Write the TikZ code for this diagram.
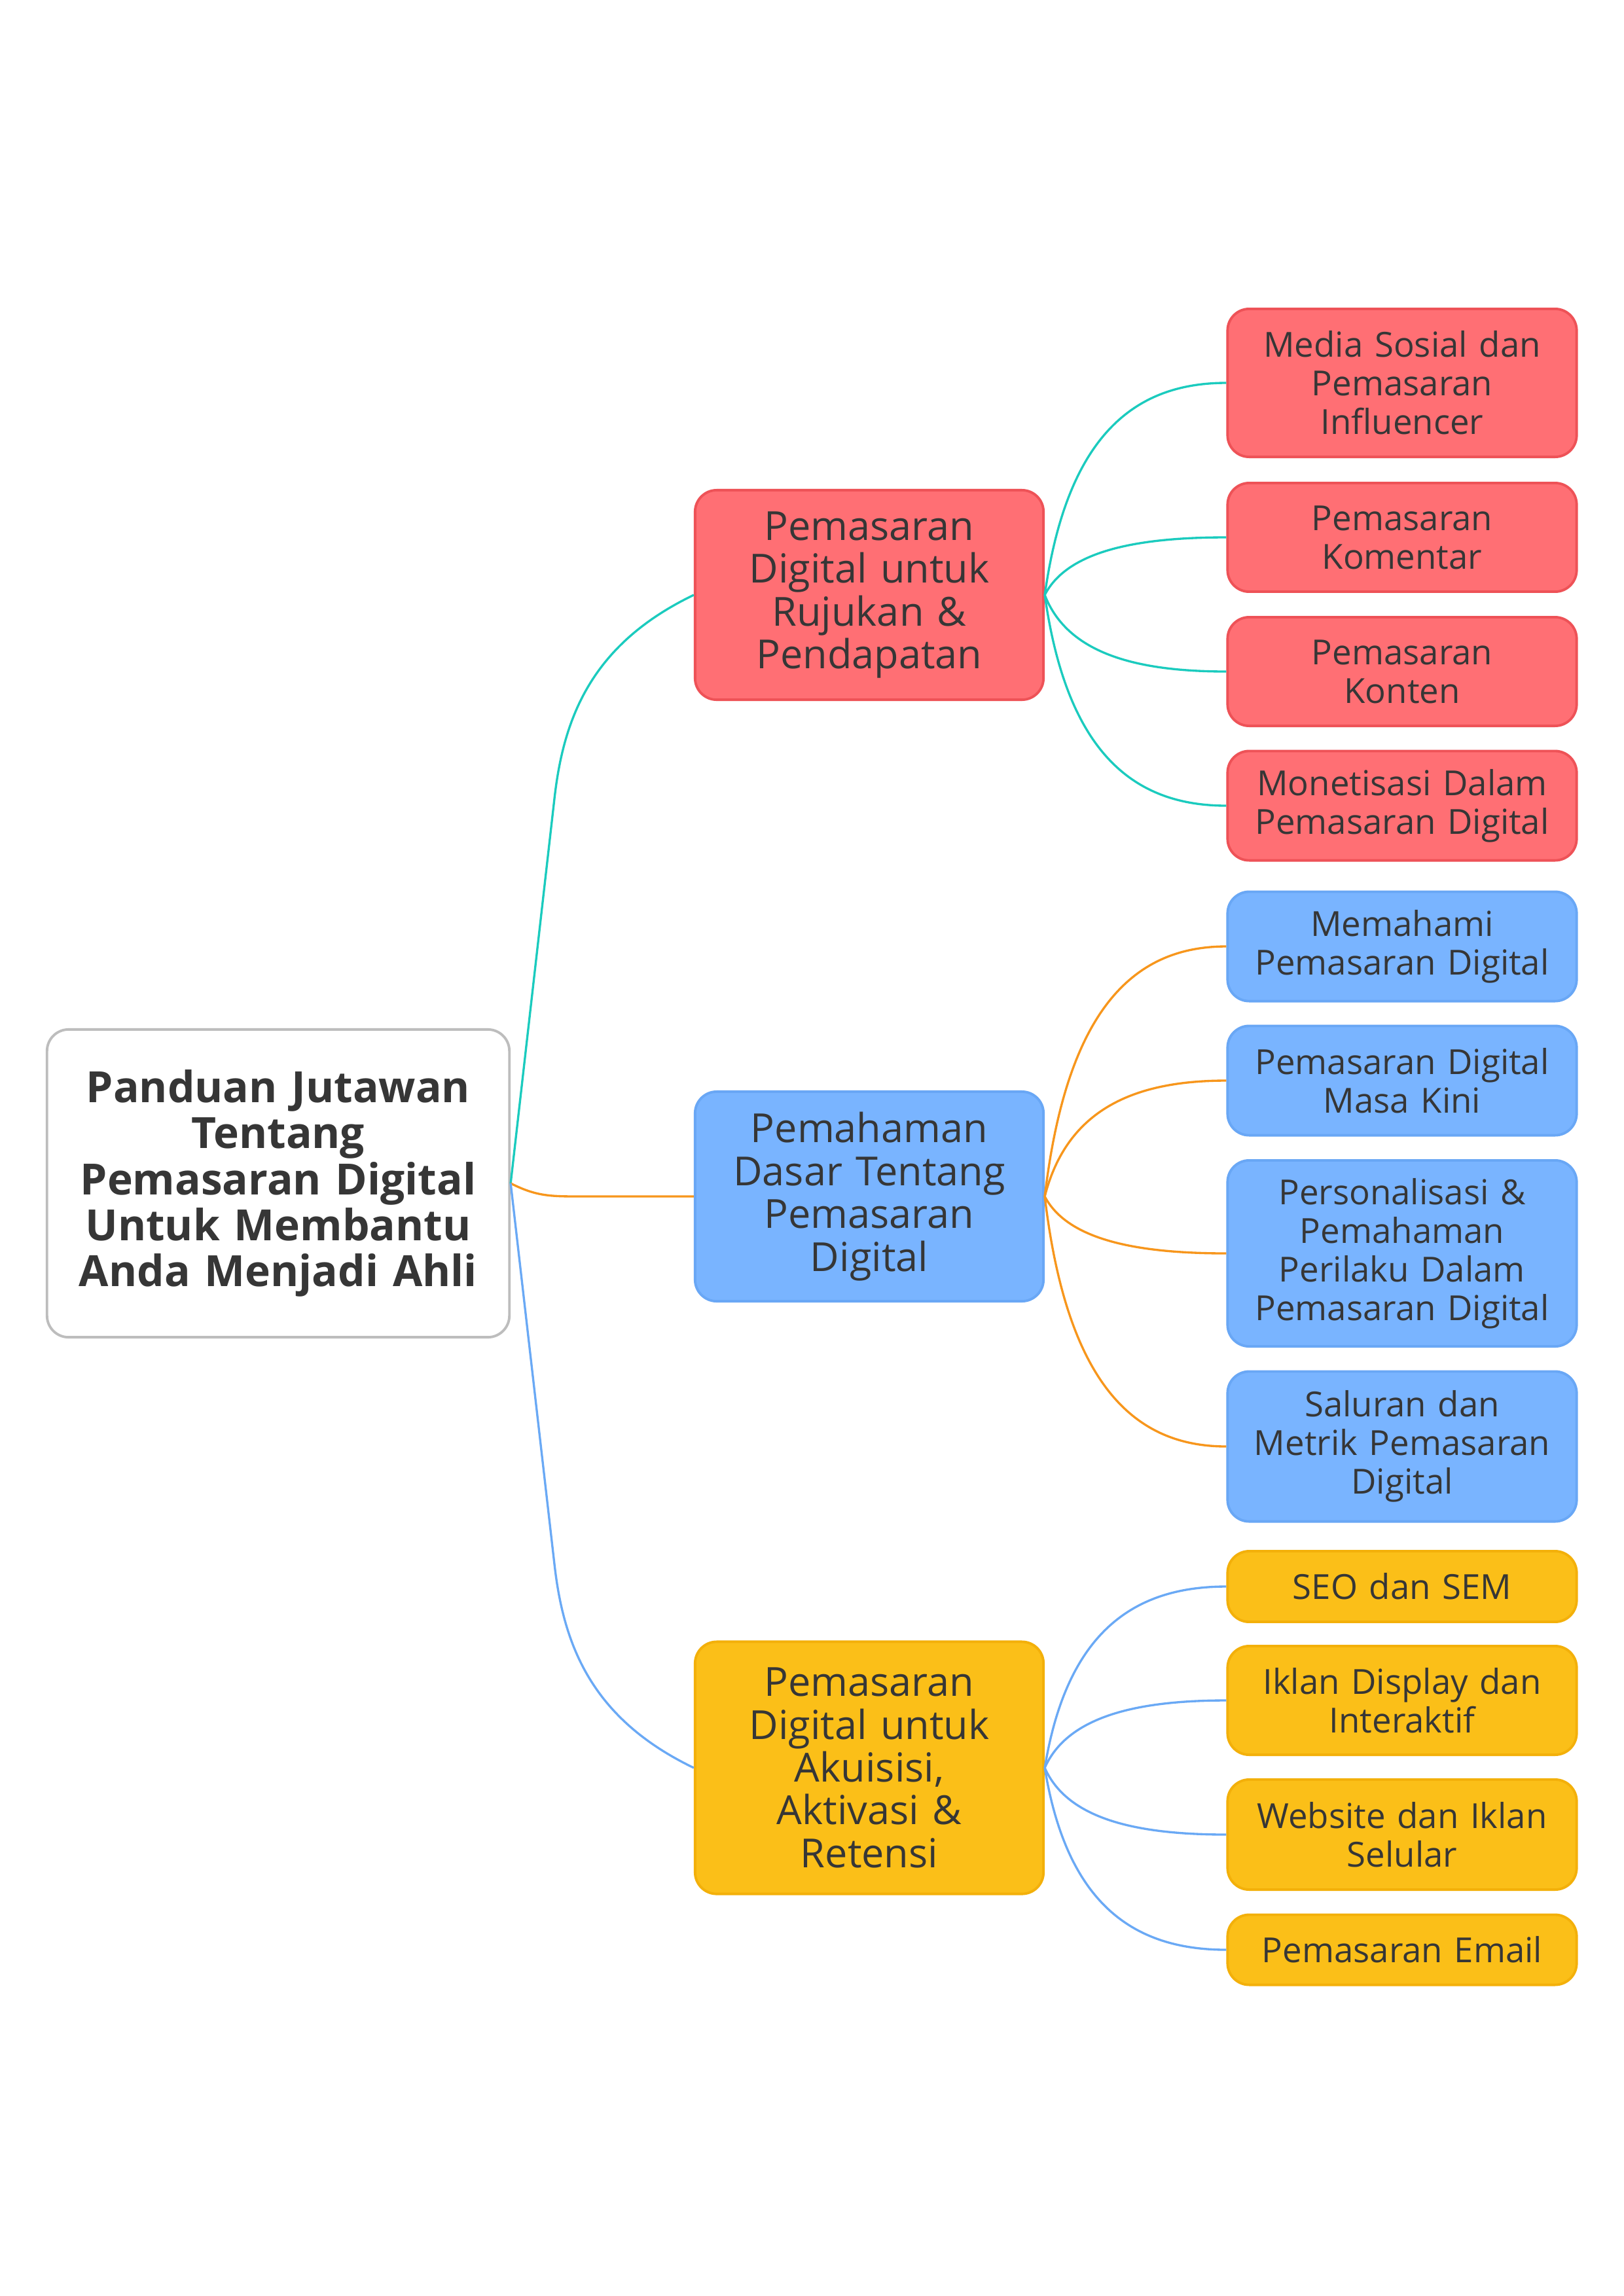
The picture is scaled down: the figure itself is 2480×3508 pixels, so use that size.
\documentclass[tikz,border=0pt]{standalone}
\usepackage{fontspec}
\setmainfont{Open Sans}
\definecolor{txt}{HTML}{363636}
\definecolor{redfill}{HTML}{FF6F74}
\definecolor{redline}{HTML}{EE5257}
\definecolor{bluefill}{HTML}{79B4FF}
\definecolor{blueline}{HTML}{69A7F5}
\definecolor{yelfill}{HTML}{FBBF18}
\definecolor{yelline}{HTML}{F3B00A}
\definecolor{rootline}{HTML}{BDBDBD}
\definecolor{tealc}{HTML}{1BCBBE}
\definecolor{orangec}{HTML}{F7961C}
\definecolor{bluec}{HTML}{6AA9F5}
\begin{document}
\begin{tikzpicture}[x=0.01cm,y=-0.01cm,
  box/.style={rectangle, rounded corners=0.33cm, line width=1.1pt, align=center, text=txt, inner sep=0pt},
  rootbox/.style={box, draw=rootline, fill=white, minimum width=7.06cm, minimum height=4.70cm, text width=6.6cm, font=\fontsize{18.7}{20}\selectfont\bfseries},
  midbox/.style={box, minimum width=5.32cm, text width=5.0cm, font=\fontsize{17.4}{18.6}\selectfont},
  leafbox/.style={box, minimum width=5.33cm, text width=5.1cm, font=\fontsize{15}{16.8}\selectfont},
  redn/.style={fill=redfill, draw=redline},
  bluen/.style={fill=bluefill, draw=blueline},
  yeln/.style={fill=yelfill, draw=yelline},
  conn/.style={line width=0.95pt},
]
\useasboundingbox (0,0) rectangle (2480,3508);
\fill[white] (0,0) rectangle (2480,3508);

% root
\node[rootbox] (root) at (425,1808) {Panduan Jutawan\\Tentang\\Pemasaran Digital\\Untuk Membantu\\Anda Menjadi Ahli};

% mid nodes
\node[midbox, redn, minimum height=3.2cm] (m1) at (1328,909) {Pemasaran\\Digital untuk\\Rujukan \&\\Pendapatan};
\node[midbox, bluen, minimum height=3.2cm] (m2) at (1328,1828) {Pemahaman\\Dasar Tentang\\Pemasaran\\Digital};
\node[midbox, yeln, minimum height=3.85cm] (m3) at (1328,2701) {Pemasaran\\Digital untuk\\Akuisisi,\\Aktivasi \&\\Retensi};

% red leaves
\node[leafbox, redn, minimum height=2.26cm] (l1) at (2142,585) {Media Sosial dan\\Pemasaran\\Influencer};
\node[leafbox, redn, minimum height=1.66cm] (l2) at (2142,821) {Pemasaran\\Komentar};
\node[leafbox, redn, minimum height=1.66cm] (l3) at (2142,1026) {Pemasaran\\Konten};
\node[leafbox, redn, minimum height=1.67cm] (l4) at (2142,1231) {Monetisasi Dalam\\Pemasaran Digital};

% blue leaves
\node[leafbox, bluen, minimum height=1.67cm] (b1) at (2142,1446) {Memahami\\Pemasaran Digital};
\node[leafbox, bluen, minimum height=1.67cm] (b2) at (2142,1651) {Pemasaran Digital\\Masa Kini};
\node[leafbox, bluen, minimum height=2.84cm] (b3) at (2142,1915) {Personalisasi \&\\Pemahaman\\Perilaku Dalam\\Pemasaran Digital};
\node[leafbox, bluen, minimum height=2.29cm] (b4) at (2142,2210) {Saluran dan\\Metrik Pemasaran\\Digital};

% yellow leaves
\node[leafbox, yeln, minimum height=1.08cm] (y1) at (2142,2424) {SEO dan SEM};
\node[leafbox, yeln, minimum height=1.66cm] (y2) at (2142,2598) {Iklan Display dan\\Interaktif};
\node[leafbox, yeln, minimum height=1.68cm] (y3) at (2142,2803) {Website dan Iklan\\Selular};
\node[leafbox, yeln, minimum height=1.07cm] (y4) at (2142,2979) {Pemasaran Email};

% root to mid
\draw[conn, tealc] (root.east) -- ++(67,-589) .. controls +(14,-123) and +(-156,75) .. (m1.west);
\draw[conn, orangec] (root.east) .. controls +(40,20) and +(-50,0) .. ++(110,20) -- (m2.west);
\draw[conn, bluec] (root.east) -- ++(67,583) .. controls +(14,123) and +(-156,-75) .. (m3.west);

% red branch
\draw[conn, tealc] (m1.east) .. controls +(34,-243) and +(-141,0) .. (l1.west);
\draw[conn, tealc] (m1.east) .. controls +(34,-66) and +(-141,0) .. (l2.west);
\draw[conn, tealc] (m1.east) .. controls +(34,88) and +(-141,0) .. (l3.west);
\draw[conn, tealc] (m1.east) .. controls +(34,242) and +(-141,0) .. (l4.west);

% blue branch
\draw[conn, orangec] (m2.east) .. controls +(34,-287) and +(-141,0) .. (b1.west);
\draw[conn, orangec] (m2.east) .. controls +(34,-133) and +(-141,0) .. (b2.west);
\draw[conn, orangec] (m2.east) .. controls +(34,65) and +(-141,0) .. (b3.west);
\draw[conn, orangec] (m2.east) .. controls +(34,287) and +(-141,0) .. (b4.west);

% yellow branch
\draw[conn, bluec] (m3.east) .. controls +(34,-208) and +(-141,0) .. (y1.west);
\draw[conn, bluec] (m3.east) .. controls +(34,-77) and +(-141,0) .. (y2.west);
\draw[conn, bluec] (m3.east) .. controls +(34,77) and +(-141,0) .. (y3.west);
\draw[conn, bluec] (m3.east) .. controls +(34,209) and +(-141,0) .. (y4.west);
\end{tikzpicture}
\end{document}
